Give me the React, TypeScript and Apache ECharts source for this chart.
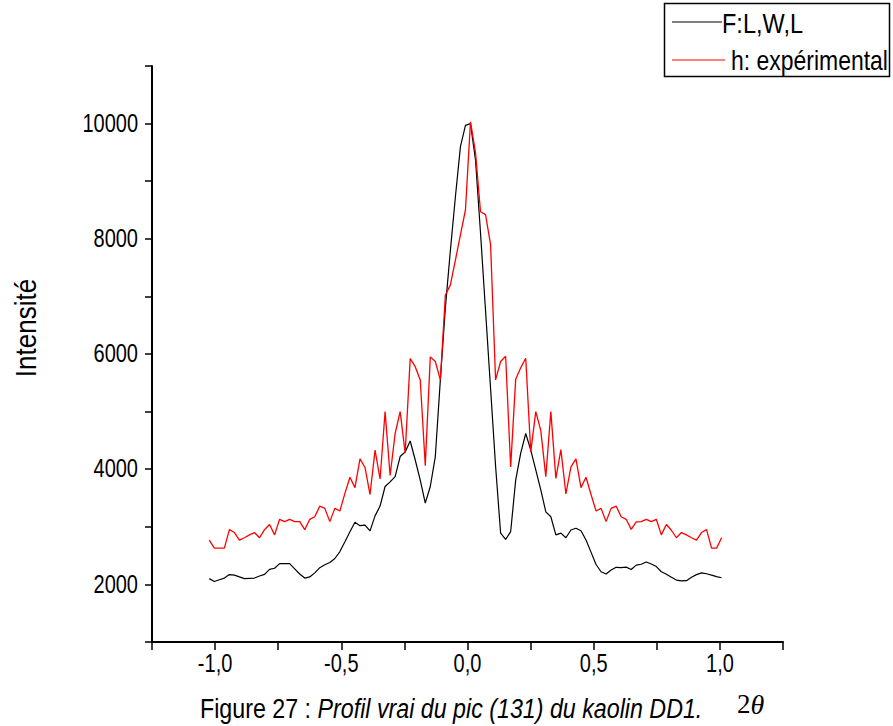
import React, { useEffect, useRef } from "react";
import * as echarts from "echarts";

// Sampling of the 2θ offset around the (131) reflection
const START_2THETA = -1.023;
const STEP_2THETA = 0.0199;

// F:L,W,L — computed (true) profile
const fwlProfile = [
  2100, 2050, 2080, 2110, 2170, 2160, 2130, 2100, 2105, 2110,
  2145, 2175, 2260, 2280, 2360, 2360, 2360, 2270, 2180, 2110,
  2130, 2200, 2290, 2340, 2380, 2450, 2570, 2740, 2915, 3080,
  3020, 3030, 2930, 3190, 3360, 3700, 3780, 3870, 4220, 4300,
  4490, 4160, 3810, 3410, 3700, 4220, 5550, 6800, 7800, 8730,
  9600, 9970, 10000, 9370, 8100, 6750, 5400, 4050, 2890, 2780,
  2915, 3810, 4280, 4620, 4330, 3990, 3640, 3260, 3175, 2860,
  2890, 2810, 2945, 2975, 2930, 2770, 2560, 2345, 2220, 2180,
  2250, 2297, 2290, 2300, 2260, 2335, 2350, 2390, 2355, 2310,
  2220, 2175, 2125, 2075, 2060, 2065, 2125, 2170, 2200, 2185,
  2160, 2135, 2115,
];

// h — experimental profile
const experimental = [
  2770, 2630, 2630, 2630, 2950, 2900, 2770, 2810, 2860, 2900,
  2810, 2950, 3040, 2860, 3130, 3090, 3130, 3090, 3090, 2950,
  3130, 3175, 3360, 3320, 3090, 3320, 3275, 3580, 3860, 3680,
  4180, 4030, 3560, 4330, 3830, 5000, 3890, 4620, 5000, 4280,
  5920, 5780, 5550, 4060, 5950, 5870, 5550, 7020, 7200, 7630,
  8070, 8500, 10030, 9500, 8470, 8420, 7900, 5550, 5870, 5960,
  4040, 5560, 5760, 5925, 4300, 5000, 4670, 3870, 5000, 3840,
  4340, 3570, 4040, 4180, 3680, 3860, 3560, 3275, 3320, 3090,
  3320, 3360, 3175, 3130, 2955, 3085, 3090, 3130, 3090, 3130,
  2860, 3040, 2940, 2810, 2900, 2860, 2810, 2770, 2900, 2950,
  2630, 2630, 2810,
];

const seriesNames = ["F:L,W,L", "h: expérimental"];
const seriesColors = ["#000000", "#ff0000"];

// Tick label values (labelled ticks only; minor ticks come from the axis interval)
const xTickLabels = [-1.0, -0.5, 0.0, 0.5, 1.0];
const yTickLabels = [2000, 4000, 6000, 8000, 10000];

const twoTheta = fwlProfile.map((_, i) => +(START_2THETA + STEP_2THETA * i).toFixed(4));

const SANS = "'Liberation Sans', Arial, sans-serif";
const SERIF = "'Liberation Serif', 'Times New Roman', serif";
// condensed look of the original lettering
const NARROW_SCALE = 0.8;

const fmtX = (v: number) => v.toFixed(1).replace(".", ",");

export default function App() {
  const ref = useRef<HTMLDivElement>(null);

  useEffect(() => {
    if (!ref.current) return;
    const chart = echarts.init(ref.current, undefined, { renderer: "svg" });

    chart.setOption({
      animation: false,
      backgroundColor: "#ffffff",
      grid: { left: 152, right: 110, top: 66, bottom: 84 },
      xAxis: {
        type: "value",
        min: -1.25,
        max: 1.25,
        interval: 0.25,
        axisLine: { show: true, onZero: false, lineStyle: { color: "#000", width: 2 } },
        axisTick: { show: true, length: 8, lineStyle: { color: "#000", width: 1.5 } },
        axisLabel: { show: false },
        splitLine: { show: false },
      },
      yAxis: {
        type: "value",
        min: 1000,
        max: 11000,
        interval: 1000,
        axisLine: { show: true, onZero: false, lineStyle: { color: "#000", width: 2 } },
        axisTick: { show: true, length: 7, lineStyle: { color: "#000", width: 1.5 } },
        axisLabel: { show: false },
        splitLine: { show: false },
      },
      series: [
        {
          name: seriesNames[0],
          type: "line",
          showSymbol: false,
          data: twoTheta.map((x, i) => [x, fwlProfile[i]]),
          lineStyle: { color: seriesColors[0], width: 1.2 },
          z: 2,
        },
        {
          name: seriesNames[1],
          type: "line",
          showSymbol: false,
          data: twoTheta.map((x, i) => [x, experimental[i]]),
          lineStyle: { color: seriesColors[1], width: 1.3 },
          z: 3,
        },
      ],
    });

    // Condensed tick labels placed through the axes' own scales
    const xLabelY = chart.convertToPixel({ yAxisIndex: 0 }, 1000) + 22;
    const yLabelX = chart.convertToPixel({ xAxisIndex: 0 }, -1.25) - 14;
    const tickTexts: any[] = [
      ...xTickLabels.map((v) => ({
        type: "text",
        x: chart.convertToPixel({ xAxisIndex: 0 }, v),
        y: xLabelY,
        scaleX: NARROW_SCALE,
        style: {
          text: fmtX(v),
          fill: "#000",
          font: `25px ${SANS}`,
          align: "center",
          verticalAlign: "middle",
        },
      })),
      ...yTickLabels.map((v) => ({
        type: "text",
        x: yLabelX,
        y: chart.convertToPixel({ yAxisIndex: 0 }, v),
        scaleX: NARROW_SCALE,
        style: {
          text: String(v),
          fill: "#000",
          font: `25px ${SANS}`,
          align: "right",
          verticalAlign: "middle",
        },
      })),
    ];

    chart.setOption({
      graphic: [
        ...tickTexts,
        {
          type: "text",
          x: 26,
          y: 328,
          rotation: Math.PI / 2,
          scaleX: 0.9,
          style: {
            text: "Intensité",
            fill: "#000",
            font: `29px ${SANS}`,
            align: "center",
            verticalAlign: "middle",
          },
        },
        {
          type: "group",
          children: [
            {
              type: "rect",
              shape: { x: 664.5, y: 3.5, width: 225, height: 73 },
              style: { fill: "#fff", stroke: "#000", lineWidth: 1.5 },
            },
            {
              type: "line",
              shape: { x1: 672, y1: 22, x2: 722, y2: 22 },
              style: { stroke: seriesColors[0], lineWidth: 1.2 },
            },
            {
              type: "text",
              x: 722,
              y: 23,
              scaleX: 0.84,
              style: {
                text: seriesNames[0],
                fill: "#000",
                font: `28px ${SANS}`,
                verticalAlign: "middle",
                align: "left",
              },
            },
            {
              type: "line",
              shape: { x1: 672, y1: 60, x2: 725, y2: 60 },
              style: { stroke: seriesColors[1], lineWidth: 1.2 },
            },
            {
              type: "text",
              x: 731,
              y: 60,
              scaleX: 0.82,
              style: {
                text: seriesNames[1],
                fill: "#000",
                font: `28px ${SANS}`,
                verticalAlign: "middle",
                align: "left",
              },
            },
          ],
        },
        {
          type: "text",
          x: 200,
          y: 708,
          scaleX: 0.83,
          style: {
            text: "{n|Figure 27 : }{i|Profil vrai du pic (131) du kaolin DD1.}",
            verticalAlign: "middle",
            align: "left",
            rich: {
              n: { fontFamily: SANS, fontSize: 28, color: "#000" },
              i: { fontFamily: SANS, fontSize: 28, fontStyle: "italic", color: "#000" },
            },
          },
        },
        {
          type: "text",
          x: 737,
          y: 704,
          style: {
            text: "{n|2}{i|θ}",
            verticalAlign: "middle",
            align: "left",
            rich: {
              n: { fontFamily: SERIF, fontSize: 27, color: "#000" },
              i: { fontFamily: SERIF, fontSize: 28, fontStyle: "italic", color: "#000" },
            },
          },
        },
      ],
    });

    return () => chart.dispose();
  }, []);

  return (
    <div
      ref={ref}
      style={{ position: "absolute", left: 0, top: 0, width: 893, height: 726 }}
    />
  );
}
